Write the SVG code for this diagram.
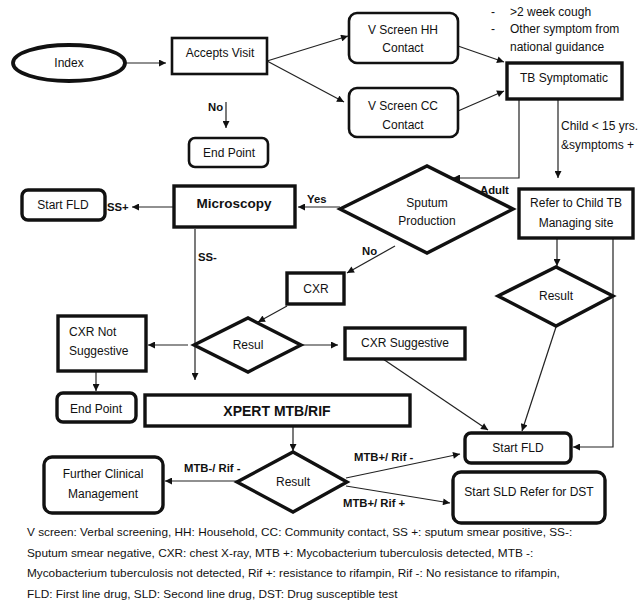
<svg xmlns="http://www.w3.org/2000/svg" width="639" height="608" viewBox="0 0 639 608">
<style>
text{font-family:"Liberation Sans",Arial,sans-serif;fill:#111}
.n{font-size:12px;text-anchor:middle}
.l{font-size:12px}
.b{font-size:11.3px;font-weight:bold}
.f{font-size:11.8px}
.box{fill:#fff;stroke:#111;stroke-width:2.6}
.thick{stroke-width:3.4}
.c{fill:none;stroke:#222;stroke-width:1.2}
</style>
<defs>
<marker id="ah" viewBox="0 0 10 10" refX="10" refY="5" markerWidth="8" markerHeight="7" markerUnits="userSpaceOnUse" orient="auto">
<path d="M0,0 L10,5 L0,10 z" fill="#111"/>
</marker>
</defs>
<rect width="639" height="608" fill="#fff"/>

<g id="connectors">
<path class="c" d="M125,63 L166,63" marker-end="url(#ah)"/>
<path class="c" d="M267,61 L348,36" marker-end="url(#ah)"/>
<path class="c" d="M267,61 L344,102" marker-end="url(#ah)"/>
<path class="c" d="M226,102 L226,128" marker-end="url(#ah)"/>
<path class="c" d="M458,46 L504,62" marker-end="url(#ah)"/>
<path class="c" d="M458,111 L504,91" marker-end="url(#ah)"/>
<path class="c" d="M519,99 L519,178 L453,178" marker-end="url(#ah)"/>
<path class="c" d="M558,99 L558,178" marker-end="url(#ah)"/>
<path class="c" d="M557,238 L557,266" marker-end="url(#ah)"/>
<path class="c" d="M613,238 L613,447 L573,447" marker-end="url(#ah)"/>
<path class="c" d="M556,327 L522,431" marker-end="url(#ah)"/>
<path class="c" d="M340,207 L298,207" marker-end="url(#ah)"/>
<path class="c" d="M174,207 L132,207" marker-end="url(#ah)"/>
<path class="c" d="M195,229 L195,380" marker-end="url(#ah)"/>
<path class="c" d="M395,246 L347,273" marker-end="url(#ah)"/>
<path class="c" d="M287,306 L258,322" marker-end="url(#ah)"/>
<path class="c" d="M301,345 L338,345" marker-end="url(#ah)"/>
<path class="c" d="M188,345 L148,345" marker-end="url(#ah)"/>
<path class="c" d="M96,371 L96,391" marker-end="url(#ah)"/>
<path class="c" d="M383,359 L488,430" marker-end="url(#ah)"/>
<path class="c" d="M293,426 L293,451" marker-end="url(#ah)"/>
<path class="c" d="M237,481 L165,481" marker-end="url(#ah)"/>
<path class="c" d="M346,478 L460,454" marker-end="url(#ah)"/>
<path class="c" d="M346,486 L450,503" marker-end="url(#ah)"/>
</g>

<g id="index"><ellipse class="box" style="stroke-width:3.8" cx="69" cy="63" rx="56" ry="18"/><text class="n" x="69" y="67">Index</text></g>
<g id="accepts"><rect class="box" x="172" y="38" width="95" height="36"/><text class="n" x="220" y="57">Accepts Visit</text></g>
<g id="endpoint1"><rect class="box" x="189" y="138" width="79" height="29" rx="6"/><text class="n" x="229" y="157">End Point</text></g>
<g id="hh"><rect class="box" x="349" y="13" width="109" height="50" rx="8"/><text class="n" x="403" y="34">V Screen HH</text><text class="n" x="403" y="52">Contact</text></g>
<g id="cc"><rect class="box" x="349" y="88" width="109" height="49" rx="8"/><text class="n" x="403" y="110">V Screen CC</text><text class="n" x="403" y="129">Contact</text></g>
<g id="tb"><rect class="box thick" x="507" y="63" width="115" height="36"/><text class="n" x="564" y="82">TB Symptomatic</text></g>
<g id="symptoms"><text class="l" x="491" y="16">-</text><text class="l" x="510" y="16">&gt;2 week cough</text><text class="l" x="491" y="33">-</text><text class="l" x="510" y="33">Other symptom from</text><text class="l" x="510" y="51">national guidance</text></g>
<g id="sputum"><polygon class="box thick" points="340,209 427,166 513,209 427,253"/><text class="n" x="427" y="207">Sputum</text><text class="n" x="427" y="225">Production</text></g>
<g id="refer"><rect class="box thick" x="519" y="189" width="114" height="49"/><text class="n" x="576" y="207">Refer to Child TB</text><text class="n" x="576" y="227">Managing site</text></g>
<g id="result1"><polygon class="box thick" points="498,296 556,267 613,296 556,326"/><text class="n" x="556" y="300">Result</text></g>
<g id="microscopy"><rect class="box thick" x="174" y="186" width="121" height="41"/><text class="n" x="234" y="208" style="font-weight:bold;font-size:13.5px">Microscopy</text></g>
<g id="startfld1"><rect class="box thick" x="22" y="190" width="83" height="30" rx="6"/><text class="n" x="63" y="209">Start FLD</text></g>
<g id="cxr"><rect class="box thick" x="287" y="273" width="57" height="31"/><text class="n" x="316" y="293">CXR</text></g>
<g id="resul"><polygon class="box thick" points="194,345 248,318 301,345 248,372"/><text class="n" x="248" y="349">Resul</text></g>
<g id="cxrsugg"><rect class="box thick" x="345" y="328" width="120" height="31"/><text class="n" x="405" y="347">CXR Suggestive</text></g>
<g id="cxrnot"><rect class="box thick" x="58" y="316" width="88" height="55"/><text class="l" x="69" y="336">CXR Not</text><text class="l" x="69" y="355">Suggestive</text></g>
<g id="endpoint2"><rect class="box thick" x="57" y="393" width="79" height="29" rx="6"/><text class="n" x="96" y="413">End Point</text></g>
<g id="xpert"><rect class="box thick" x="145" y="395" width="265" height="31"/><text class="n" x="277" y="416" style="font-weight:bold;font-size:14px">XPERT MTB/RIF</text></g>
<g id="result2"><polygon class="box thick" points="237,482 293,452 347,482 293,512"/><text class="n" x="293" y="486">Result</text></g>
<g id="further"><rect class="box thick" x="44" y="457" width="119" height="56" rx="8"/><text class="n" x="103" y="478">Further Clinical</text><text class="n" x="103" y="498">Management</text></g>
<g id="startfld2"><rect class="box thick" x="465" y="433" width="106" height="30" rx="6"/><text class="n" x="518" y="452">Start FLD</text></g>
<g id="sld"><rect class="box thick" x="453" y="472" width="152" height="51" rx="8"/><text class="n" x="529" y="496">Start SLD Refer for DST</text></g>

<g id="labels">
<text class="b" x="208" y="111">No</text>
<text class="l" x="561" y="130">Child &lt; 15 yrs.</text>
<text class="l" x="561" y="149">&amp;symptoms +</text>
<text class="b" x="480" y="194">Adult</text>
<text class="b" x="307" y="203">Yes</text>
<text class="b" x="107" y="211">SS+</text>
<text class="b" x="198" y="261">SS-</text>
<text class="b" x="362" y="255">No</text>
<text class="b" x="184" y="472">MTB-/ Rif -</text>
<text class="b" x="354" y="461">MTB+/ Rif -</text>
<text class="b" x="343" y="507">MTB+/ Rif +</text>
</g>

<g id="footnote">
<text class="f" x="27" y="536">V screen: Verbal screening, HH: Household, CC: Community contact, SS +: sputum smear positive, SS-:</text>
<text class="f" x="27" y="557">Sputum smear negative, CXR: chest X-ray, MTB +: Mycobacterium tuberculosis detected, MTB -:</text>
<text class="f" x="27" y="577">Mycobacterium tuberculosis not detected, Rif +: resistance to rifampin, Rif -: No resistance to rifampin,</text>
<text class="f" x="27" y="598">FLD: First line drug, SLD: Second line drug, DST: Drug susceptible test</text>
</g>
</svg>
